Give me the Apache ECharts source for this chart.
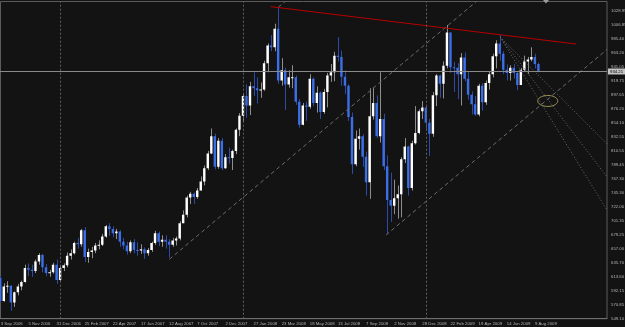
<!DOCTYPE html>
<html>
<head>
<meta charset="utf-8">
<title>Weekly gold</title>
<script src="https://cdn.jsdelivr.net/npm/echarts@6/dist/echarts.min.js"></script>
<style>
  html, body { margin: 0; padding: 0; background: #131313; }
  #main { width: 625px; height: 327px; }
</style>
</head>
<body>
<div id="main"></div>
<script>
// weekly bars, bar 0 opens Sunday 3 Sep 2006
var firstWeek = Date.UTC(2006, 8, 3);
var slotCount = 174;   // bars across the window incl. empty shift on the right
var monthNames = ['Jan','Feb','Mar','Apr','May','Jun','Jul','Aug','Sep','Oct','Nov','Dec'];

var opens = [624,611,575,598,599,573,589,598,605,627,624,622,637,647,628,619,620,
  632,608,627,631,646,650,666,664,686,644,652,654,662,663,676,692,688,681,684,668,662,653,667,655,654,656,650,655,666,681,668,671,668,663,670,673,697,710,737,743,738,748,762,783,806,833,785,826,783,800,799,810,
  843,865,896,881,911,908,905,906,947,975,972,1001,920,936,914,925,925,887,851,881,879,923,885,901,871,902,928,933,959,957,926,912,863,789,829,833,801,761,864,885,833,860,786,733,724,736,742,797,817,752,822,838,
  872,878,854,837,897,928,915,943,995,941,940,930,956,923,898,883,867,912,886,916,930,958,978,962,937,932,940,932,913,937,950,953,957,946];
var closes = [611,575,598,599,573,589,598,605,627,624,622,637,647,628,619,620,632,
  608,627,631,646,650,666,664,686,644,652,654,662,663,676,692,688,681,684,668,662,653,667,655,654,656,650,655,666,681,668,671,668,663,670,673,697,710,737,743,738,748,762,783,806,833,785,826,783,800,799,810,843,
  865,896,881,911,908,905,906,947,975,972,1001,920,936,914,925,925,887,851,881,879,923,885,901,871,902,928,933,959,957,926,912,863,789,829,833,801,761,864,885,833,860,786,733,724,736,742,797,817,752,822,838,872,
  878,854,837,897,928,915,943,995,941,940,930,956,923,898,883,867,912,886,916,930,958,978,962,937,932,940,932,913,937,950,953,957,946,934.2];
var highs = [628,614,603,606,600,590,602,607,632,634,632,640,650,649,633,624,635,
  640,630,634,651,656,668,674,688,691,657,660,666,670,680,694,697,692,688,686,674,668,670,672,667,664,659,658,668,685,684,678,678,672,674,676,700,717,740,746,745,752,770,787,810,845,837,830,830,805,815,812,845,
  869,900,914,918,933,925,917,951,978,991,1009,1034,955,940,936,944,928,891,885,887,930,925,911,903,907,932,946,965,988,967,936,914,870,842,845,836,809,908,909,897,933,868,803,776,765,756,800,830,818,826,880,875,
  888,880,860,902,930,929,950,1007,995,949,947,963,964,934,903,896,915,916,920,934,962,983,991,966,945,944,946,935,940,959,957,972,962,948];
var lows = [606,573,574,588,560,566,584,592,604,614,613,619,632,620,614,613,618,
  602,605,622,628,640,648,657,660,636,635,642,650,656,661,674,677,675,672,660,656,648,650,650,646,649,641,646,652,663,661,660,657,643,660,662,670,697,706,727,727,735,748,756,780,805,781,782,780,782,790,780,805,
  833,855,862,866,896,884,893,904,933,966,966,915,912,874,909,908,882,846,850,857,876,880,870,860,868,878,918,919,950,912,899,857,774,786,812,785,740,735,859,830,823,780,681,699,711,704,706,791,740,748,820,836,
  860,842,802,832,880,893,892,939,932,902,891,881,919,890,867,865,864,873,882,906,925,939,951,930,920,920,923,905,913,934,930,950,939,933];

var priceLabels = ['549.10','570.85','592.15','613.60','635.70','657.00','679.25','701.35','722.00','745.30','767.30','789.45',
  '810.55','832.55','854.10','876.20','897.65','919.75','941.05','963.20','985.40','1006.85','1028.95'];
var priceMin = 547.5, priceStep = 21.9, priceTop = 1042.9;
var lastPriceLabel = '934.21';

// drawn objects, [bar index, price]
var redTrend = [[77.9, 1035.6], [164.7, 977.2]];
var channelFromLow = [[49.06, 640.4], [140, 1060.5]];
var channelFromPeak = [[80, 1034.5], [84, 1053]];
var channelFromOct = [[110.67, 678.4], [173.5, 968.7]];
var fanOrigin = [143.1, 988.2];
var fanEnds = [[173.5, 821], [173.5, 769.3], [173.5, 717.6]];
var circleAt = [156.65, 888.1];

var chart = echarts.init(document.getElementById('main'));

var categories = [];
for (var k = 0; k < slotCount; k++) {
  var d = new Date(firstWeek + k * 7 * 86400000);
  categories.push(d.getUTCDate() + ' ' + monthNames[d.getUTCMonth()] + ' ' + d.getUTCFullYear());
}
var yearMarks = [];
for (var k = 1; k < opens.length; k++) {
  var y1 = new Date(firstWeek + k * 7 * 86400000).getUTCFullYear();
  var y0 = new Date(firstWeek + (k - 1) * 7 * 86400000).getUTCFullYear();
  if (y1 !== y0) yearMarks.push({ xAxis: k });
}
var candles = opens.map(function (o, i) { return [i, o, closes[i], lows[i], highs[i]]; });

function showDate(i) {
  return i === 0 || (i >= 9 && i <= 153 && (i - 9) % 8 === 0);
}

function drawCandle(params, api) {
  var i = api.value(0), o = api.value(1), c = api.value(2);
  var pO = api.coord([i, o]), pC = api.coord([i, c]);
  var pL = api.coord([i, api.value(3)]), pH = api.coord([i, api.value(4)]);
  var up = c >= o;
  var x = pO[0];
  var wx = Math.round(x) + 0.5;
  var top = Math.min(pO[1], pC[1]), h = Math.max(Math.abs(pO[1] - pC[1]), 1);
  return {
    type: 'group',
    children: [
      { type: 'line', shape: { x1: wx, y1: pH[1], x2: wx, y2: pL[1] },
        style: { stroke: up ? '#8e8e8e' : '#2c4aa6', lineWidth: 1 } },
      { type: 'rect', shape: { x: x - 1.2, y: top, width: 2.4, height: h },
        style: { fill: up ? '#ffffff' : '#3b6fe8' } }
    ]
  };
}

function drawCircle(params, api) {
  var p = api.coord([api.value(0), api.value(1)]);
  var pts = [];
  for (var a = 0; a < 48; a++) {
    var t = a / 48 * Math.PI * 2;
    pts.push([p[0] + 10 * Math.cos(t), p[1] + 5.5 * Math.sin(t)]);
  }
  return { type: 'polygon', shape: { points: pts }, style: { fill: 'none', stroke: '#a39a55', lineWidth: 1 } };
}

function drawing(data, color, type) {
  return { type: 'line', xAxisIndex: 1, data: data, symbol: 'none', silent: true, clip: true,
    lineStyle: { color: color, width: 1, type: type } };
}

var fanSeries = fanEnds.map(function (e) { return drawing([fanOrigin, e], '#6c6c6c', [1, 2]); });

option = {
  backgroundColor: '#131313',
  animation: false,
  textStyle: { fontFamily: 'Liberation Sans' },
  grid: { left: -5, top: 2, width: 612, height: 316.7, containLabel: false, outerBoundsMode: 'none' },
  xAxis: [
    { type: 'category', data: categories, boundaryGap: true,
      axisLine: { lineStyle: { color: '#707070' } },
      axisTick: { interval: function (i) { return showDate(i); }, alignWithLabel: true, length: 2, lineStyle: { color: '#8a8a8a' } },
      axisLabel: { interval: function (i) { return showDate(i); }, align: 'left', color: '#b4b4b4', fontSize: 4.3, margin: 3,
        formatter: function (v, i) { return i === 0 ? '{f|' + v + '}' : v; },
        rich: { f: { padding: [0, 0, 0, 4], fontSize: 4.3, color: '#b4b4b4' } } },
      splitLine: { show: false } },
    { type: 'value', min: -0.5, max: slotCount - 0.5, show: false }
  ],
  yAxis: {
    type: 'value', position: 'right', min: priceMin, max: priceTop, interval: priceStep, scale: true,
    axisLine: { show: true, lineStyle: { color: '#707070' } },
    axisTick: { show: true, length: 2, lineStyle: { color: '#8a8a8a' } },
    splitLine: { show: false },
    axisLabel: { color: '#b4b4b4', fontSize: 4.3, margin: 4,
      formatter: function (v) {
        var n = Math.round((v - priceMin) / priceStep);
        return Math.abs(priceMin + n * priceStep - v) < 0.01 ? (priceLabels[n] || '') : '';
      } }
  },
  series: [
    { type: 'custom', xAxisIndex: 1, renderItem: drawCandle, data: candles, clip: true,
      encode: { x: 0, y: [1, 2, 3, 4] }, silent: true,
      markLine: { silent: true, symbol: 'none', animation: false, label: { show: false },
        lineStyle: { color: '#5e5e5e', width: 1, type: [2, 2] }, data: yearMarks } },
    { type: 'line', xAxisIndex: 1, data: [], symbol: 'none', silent: true,
      markLine: { silent: true, symbol: 'none', animation: false,
        lineStyle: { color: '#8a8a8a', width: 1, type: 'solid' },
        label: { position: 'end', distance: 1, formatter: lastPriceLabel, color: '#000', backgroundColor: '#c4c4c4',
          fontSize: 4.3, padding: [1, 2, 1, 2] },
        data: [{ yAxis: closes[closes.length - 1] }] } },
    drawing(channelFromLow, '#6c6c6c', [4, 3]),
    drawing(channelFromPeak, '#6c6c6c', [4, 3]),
    drawing(channelFromOct, '#6c6c6c', [4, 3]),
    drawing(redTrend, '#b80000', 'solid')
  ].concat(fanSeries).concat([
    { type: 'custom', xAxisIndex: 1, renderItem: drawCircle, data: [circleAt], silent: true, encode: { x: 0, y: 1 } }
  ]),
  graphic: [
    { type: 'rect', shape: { x: 0.5, y: 1.5, width: 606.5, height: 317.2 }, style: { fill: 'none', stroke: '#5c5c5c', lineWidth: 1 }, silent: true },
    { type: 'polygon', shape: { points: [[543, 0], [549, 0], [546, 3.5]] }, style: { fill: '#9a9a9a' }, silent: true }
  ]
};

chart.setOption(option);
</script>
</body>
</html>
